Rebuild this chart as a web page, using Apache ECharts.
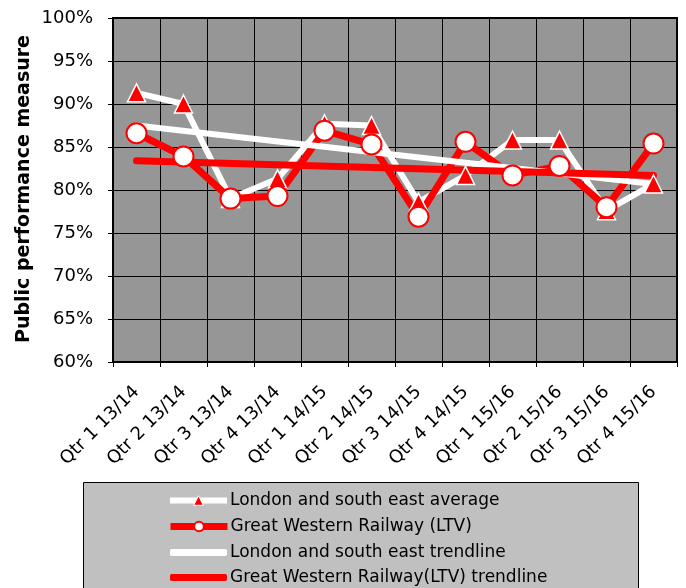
<!DOCTYPE html>
<html><head><meta charset="utf-8">
<script src="https://cdn.jsdelivr.net/npm/echarts@6/dist/echarts.min.js"></script>
<style>html,body{margin:0;padding:0;background:#fff}#c{width:686px;height:588px}</style>
</head><body><div id="c"></div>
<script>
const categories = ['Qtr 1 13/14','Qtr 2 13/14','Qtr 3 13/14','Qtr 4 13/14','Qtr 1 14/15','Qtr 2 14/15','Qtr 3 14/15','Qtr 4 14/15','Qtr 1 15/16','Qtr 2 15/16','Qtr 3 15/16','Qtr 4 15/16'];
const londonAvg = [91.3, 90.0, 79.0, 81.3, 87.7, 87.5, 78.6, 81.7, 85.8, 85.8, 77.6, 80.7];
const gwr = [86.6, 83.9, 79.0, 79.3, 86.9, 85.3, 76.9, 85.6, 81.7, 82.8, 78.0, 85.4];
const londonTrend = [[0, 87.5], [11, 80.7]];
const gwrTrend = [[0, 83.4], [11, 81.7]];
const yTicks = {min: 60, max: 100, interval: 5};
const seriesNames = ['London and south east average','Great Western Railway (LTV)','London and south east trendline','Great Western Railway(LTV) trendline'];
const yTitle = 'Public performance measure';

const chart = echarts.init(document.getElementById('c'));
const font = '"DejaVu Sans", Arial, sans-serif';
const legendText = {fontFamily: font, fontSize: 17, color: '#000', padding: [0,0,0,-2]};
const legendCenters = [499, 525, 551, 576];
const legendItems = [
  {name: seriesNames[0], itemStyle: {color: '#ff0000', borderColor: '#fff', borderWidth: 1}, lineStyle: {color: '#fff', width: 6}},
  {name: seriesNames[1], itemStyle: {color: '#fff', borderColor: '#ff0000', borderWidth: 2}, lineStyle: {color: '#ff0000', width: 7}},
  {name: seriesNames[2], icon: 'roundRect', itemStyle: {color: '#fff'}},
  {name: seriesNames[3], icon: 'roundRect', itemStyle: {color: '#ff0000'}}
];
const legends = legendItems.map((d, i) => ({
  left: i < 2 ? 162 : 165, top: legendCenters[i] - 12, itemWidth: 57, itemHeight: i < 2 ? 12 : 7,
  textStyle: legendText, data: [d]
}));
chart.setOption({
  animation: false,
  backgroundColor: '#fff',
  graphic: [{
    type: 'rect', left: 83, top: 482, z: 0,
    shape: {width: 555, height: 110},
    style: {fill: '#c0c0c0', stroke: '#000', lineWidth: 1}
  }, {
    type: 'text', x: 24, y: 189, rotation: Math.PI / 2,
    style: {text: yTitle, font: 'bold 19px "DejaVu Sans", Arial, sans-serif', fill: '#000', align: 'center', verticalAlign: 'middle'}
  }],
  legend: legends,
  grid: {left: 113, right: 9, top: 18, bottom: 226, show: true, backgroundColor: '#969696', borderColor: '#000', borderWidth: 2},
  xAxis: {
    type: 'category', data: categories, boundaryGap: true,
    axisLine: {lineStyle: {color: '#000', width: 2}},
    axisTick: {show: true, length: 5, lineStyle: {color: '#000'}},
    splitLine: {show: true, lineStyle: {color: '#000', width: 1}},
    axisLabel: {rotate: 45, interval: 0, fontFamily: font, fontSize: 18, color: '#000', margin: 27}
  },
  yAxis: {
    type: 'value', min: yTicks.min, max: yTicks.max, interval: yTicks.interval,
    axisLine: {show: true, lineStyle: {color: '#000', width: 2}},
    axisTick: {show: true, length: 5, lineStyle: {color: '#000'}},
    splitLine: {show: true, lineStyle: {color: '#000', width: 1}},
    axisLabel: {formatter: '{value}%', fontFamily: font, fontSize: 18, color: '#000', margin: 20}
  },
  series: [
    {name: seriesNames[0], type: 'line', data: londonAvg,
     lineStyle: {color: '#fff', width: 6}, itemStyle: {color: '#ff0000', borderColor: '#fff', borderWidth: 1.5},
     symbol: 'triangle', symbolSize: 18, showAllSymbol: true},
    {name: seriesNames[1], type: 'line', data: gwr,
     lineStyle: {color: '#ff0000', width: 7}, itemStyle: {color: '#fff', borderColor: '#ff0000', borderWidth: 2},
     symbol: 'circle', symbolSize: 20, showAllSymbol: true},
    {name: seriesNames[2], type: 'line', data: londonTrend,
     lineStyle: {color: '#fff', width: 6, cap: 'round'}, itemStyle: {color: '#fff'}, symbol: 'none'},
    {name: seriesNames[3], type: 'line', data: gwrTrend,
     lineStyle: {color: '#ff0000', width: 7, cap: 'round'}, itemStyle: {color: '#ff0000'}, symbol: 'none'}
  ]
});
</script></body></html>
